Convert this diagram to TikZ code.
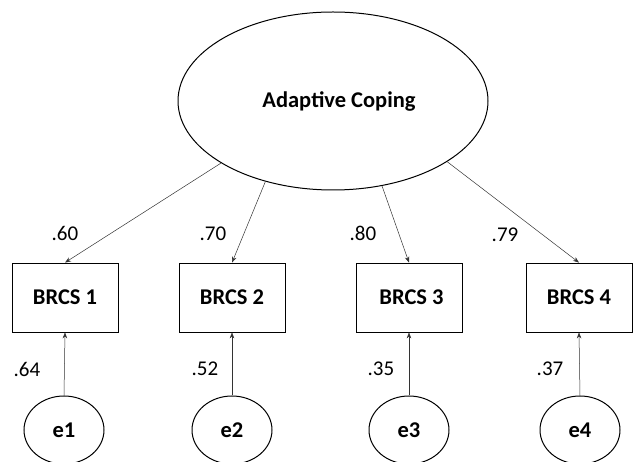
\documentclass[tikz,border=0pt]{standalone}
\usepackage{fontspec}
\setmainfont{Carlito}
\usetikzlibrary{shapes.geometric,arrows.meta}
\tikzset{
  latent/.style={draw=black,ellipse,line width=1pt,inner sep=0pt,font=\bfseries\fontsize{22.5}{26}\selectfont},
  obs/.style={draw=black,rectangle,line width=0.8pt,minimum width=106pt,minimum height=69pt,inner sep=0pt,font=\bfseries\fontsize{22.5}{26}\selectfont},
  err/.style={draw=black,ellipse,line width=1pt,minimum width=80pt,minimum height=68pt,inner sep=0pt,font=\bfseries\fontsize{22.5}{26}\selectfont},
  path/.style={draw=black!80,line width=0.5pt,-{Stealth[length=6pt,width=4.5pt]}},
  coef/.style={font=\fontsize{21}{24}\selectfont,inner sep=0pt}
}
\begin{document}
\begin{tikzpicture}[x=1pt,y=1pt]
\useasboundingbox (0,0) rectangle (633,-462);
\begin{scope}
\clip (0,0) rectangle (633,-462);
\node[latent,minimum width=310pt,minimum height=178pt] (ac) at (333,-101) {\hspace*{12pt}Adaptive Coping};
\node[obs] (b1) at (65,-297.5) {BRCS 1};
\node[obs] (b2) at (232,-297.5) {BRCS 2};
\node[obs] (b3) at (409,-297.5) {\hspace*{5pt}BRCS 3};
\node[obs] (b4) at (579,-297.5) {BRCS 4};
\node[err] (e1) at (64,-430) {e1};
\node[err] (e2) at (232,-430) {e2};
\node[err] (e3) at (409,-430) {e3};
\node[err] (e4) at (580,-430) {e4};
\draw[path] (ac.209) -- (b1.north);
\draw[path] (ac.230) -- (b2.north);
\draw[path] (ac.300) -- (b3.north);
\draw[path] (ac.332) -- (b4.north);
\draw[path] (e1.north) -- (b1.south);
\draw[path] (e2.north) -- (b2.south);
\draw[path] (e3.north) -- (b3.south);
\draw[path] (e4.north) -- (b4.south);
\node[coef] (l1) at (65,-233) {.60};
\node[coef] (l2) at (213,-234) {.70};
\node[coef] (l3) at (363,-233) {.80};
\node[coef] (l4) at (505,-235) {.79};
\node[coef] (m1) at (27,-369) {.64};
\node[coef] (m2) at (205,-369) {.52};
\node[coef] (m3) at (381,-369) {.35};
\node[coef] (m4) at (550,-369) {.37};
\end{scope}
\end{tikzpicture}
\end{document}
